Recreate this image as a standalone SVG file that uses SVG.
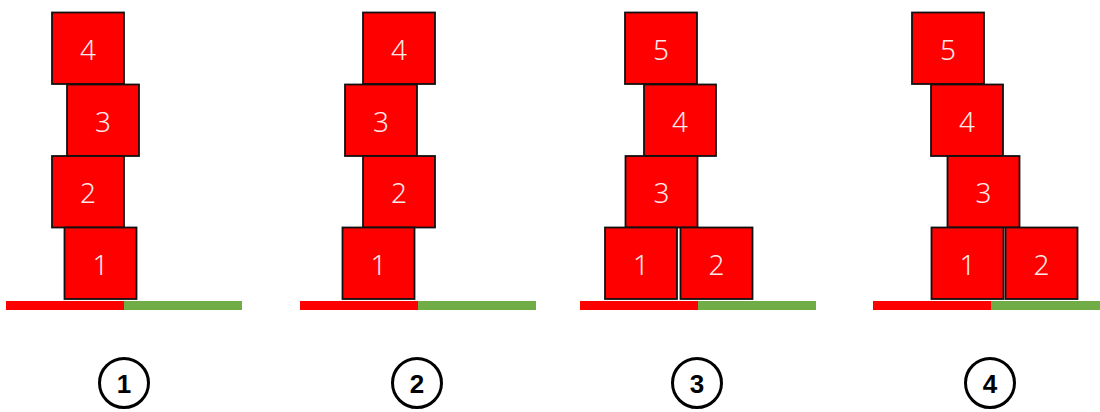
<svg xmlns="http://www.w3.org/2000/svg" width="1100" height="412" viewBox="0 0 1100 412">
<style>
.box rect{fill:#ff0000;stroke:#111;stroke-width:1.8}
.box text{font-family:"Noto Sans","Liberation Sans",sans-serif;font-weight:300;font-size:28px;fill:#ffe8e8;text-anchor:middle;dominant-baseline:central}
.red{fill:#ff0000}
.green{fill:#70ad47}
.lbl circle{fill:none;stroke:#000;stroke-width:3}
.lbl text{font-family:"Liberation Sans","Noto Sans",sans-serif;font-weight:bold;font-size:26px;fill:#000;text-anchor:middle;dominant-baseline:central}
</style>
<rect width="1100" height="412" fill="#fff"/>
<g id="ground">
<rect class="red" x="6" y="301" width="118" height="9"/><rect class="green" x="124" y="301" width="118" height="9"/>
<rect class="red" x="300" y="301" width="118" height="9"/><rect class="green" x="418" y="301" width="118" height="9"/>
<rect class="red" x="580" y="301" width="118" height="9"/><rect class="green" x="698" y="301" width="118" height="9"/>
<rect class="red" x="873" y="301" width="118" height="9"/><rect class="green" x="991" y="301" width="118" height="9"/>
</g>
<g id="p1">
<g id="p1b4" class="box"><rect x="52" y="12.5" width="72" height="71.5"/><text x="88" y="49">4</text></g>
<g id="p1b3" class="box"><rect x="67" y="84.5" width="72" height="71.5"/><text x="103" y="121">3</text></g>
<g id="p1b2" class="box"><rect x="52" y="156" width="72" height="71.5"/><text x="88" y="192">2</text></g>
<g id="p1b1" class="box"><rect x="64.5" y="227.5" width="72" height="71.5"/><text x="100.5" y="264">1</text></g>
</g>
<g id="p2">
<g id="p2b4" class="box"><rect x="363" y="12.5" width="72" height="71.5"/><text x="399" y="49">4</text></g>
<g id="p2b3" class="box"><rect x="345" y="84.5" width="72" height="71.5"/><text x="381" y="121">3</text></g>
<g id="p2b2" class="box"><rect x="363" y="156" width="72" height="71.5"/><text x="399" y="192">2</text></g>
<g id="p2b1" class="box"><rect x="342.5" y="227.5" width="72" height="71.5"/><text x="378.5" y="264">1</text></g>
</g>
<g id="p3">
<g id="p3b5" class="box"><rect x="625" y="12.5" width="72" height="71.5"/><text x="661" y="49">5</text></g>
<g id="p3b4" class="box"><rect x="644" y="84.5" width="72" height="71.5"/><text x="680" y="121">4</text></g>
<g id="p3b3" class="box"><rect x="625.5" y="156" width="72" height="71.5"/><text x="661.5" y="192">3</text></g>
<g id="p3b1" class="box"><rect x="605" y="227.5" width="72" height="71.5"/><text x="641" y="264">1</text></g>
<g id="p3b2" class="box"><rect x="680.5" y="227.5" width="72" height="71.5"/><text x="716.5" y="264">2</text></g>
</g>
<g id="p4">
<g id="p4b5" class="box"><rect x="912" y="12.5" width="72" height="71.5"/><text x="948" y="49">5</text></g>
<g id="p4b4" class="box"><rect x="931" y="84.5" width="72" height="71.5"/><text x="967" y="121">4</text></g>
<g id="p4b3" class="box"><rect x="947.5" y="156" width="72" height="71.5"/><text x="983.5" y="192">3</text></g>
<g id="p4b1" class="box"><rect x="931.5" y="227.5" width="72" height="71.5"/><text x="967.5" y="264">1</text></g>
<g id="p4b2" class="box"><rect x="1005.5" y="227.5" width="72" height="71.5"/><text x="1041.5" y="264">2</text></g>
</g>
<g id="labels">
<g id="lbl1" class="lbl"><circle cx="124" cy="383" r="24.5"/><text x="124" y="384">1</text></g>
<g id="lbl2" class="lbl"><circle cx="417" cy="383" r="24.5"/><text x="417" y="384">2</text></g>
<g id="lbl3" class="lbl"><circle cx="697" cy="383" r="24.5"/><text x="697" y="384">3</text></g>
<g id="lbl4" class="lbl"><circle cx="990" cy="383" r="24.5"/><text x="990" y="384">4</text></g>
</g>
<g id="connectors"/>
</svg>
